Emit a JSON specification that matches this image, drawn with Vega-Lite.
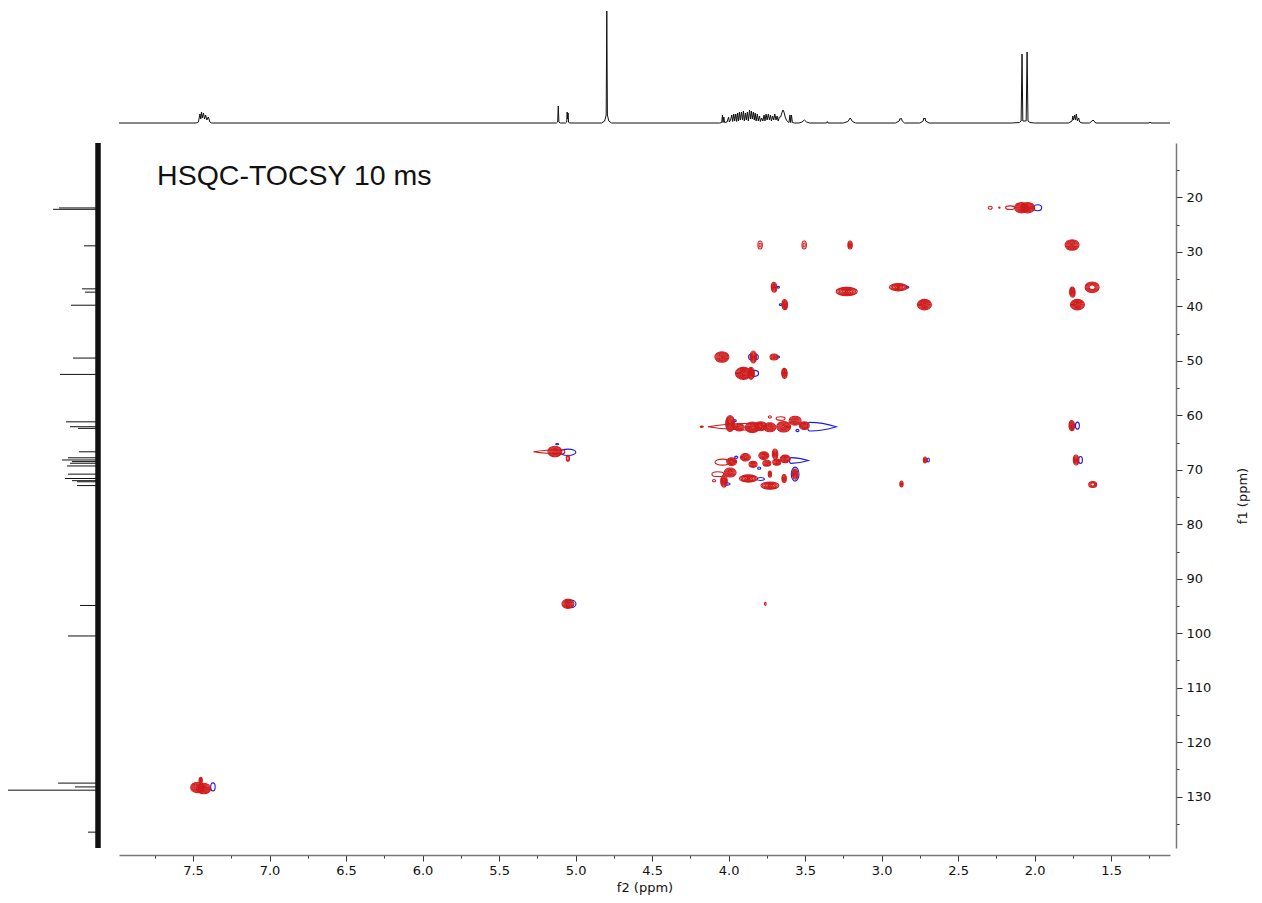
{
"$schema": "https://vega.github.io/schema/vega-lite/v6.json",
"background": "white",
"padding": 5,
"config": {"view": {"stroke": null}, "font": "DejaVu Sans", "axis": {"grid": false}},
"datasets": {
"h1": [
{"f2":7.984,"i":0},{"f2":7.48,"i":0},{"f2":7.465,"i":1},{"f2":7.455,"i":9},{"f2":7.45,"i":4},{"f2":7.445,"i":11},{"f2":7.44,"i":5},{"f2":7.432,"i":10},{"f2":7.425,"i":4},{"f2":7.418,"i":8},{"f2":7.41,"i":3},{"f2":7.4,"i":6},{"f2":7.39,"i":1},{"f2":7.38,"i":0},
{"f2":5.125,"i":0},{"f2":5.117,"i":1},{"f2":5.113,"i":17},{"f2":5.109,"i":1},{"f2":5.1,"i":0},
{"f2":5.065,"i":0},{"f2":5.058,"i":1},{"f2":5.055,"i":11},{"f2":5.052,"i":4},{"f2":5.049,"i":10},{"f2":5.046,"i":1},{"f2":5.04,"i":0},
{"f2":4.83,"i":0},{"f2":4.81,"i":2},{"f2":4.8,"i":8},{"f2":4.796,"i":112},{"f2":4.792,"i":8},{"f2":4.783,"i":2},{"f2":4.765,"i":0},
{"f2":4.06,"i":0},{"f2":4.045,"i":0.5},{"f2":4.04,"i":8},{"f2":4.036,"i":0.5},{"f2":4.031,"i":6},{"f2":4.026,"i":0.5},{"f2":4.01,"i":1},{"f2":4.0,"i":6},{"f2":3.995,"i":1},{"f2":3.987,"i":3},{"f2":3.979,"i":8},{"f2":3.973,"i":1.5},{"f2":3.966,"i":9},{"f2":3.96,"i":2},{"f2":3.953,"i":9},{"f2":3.947,"i":1.5},{"f2":3.941,"i":10},{"f2":3.935,"i":2},{"f2":3.929,"i":11},{"f2":3.923,"i":3},{"f2":3.916,"i":11},{"f2":3.909,"i":3},{"f2":3.903,"i":12},{"f2":3.897,"i":2},{"f2":3.89,"i":10},{"f2":3.884,"i":3},{"f2":3.877,"i":11},{"f2":3.871,"i":2},{"f2":3.863,"i":13},{"f2":3.857,"i":4},{"f2":3.851,"i":12},{"f2":3.845,"i":4},{"f2":3.838,"i":11},{"f2":3.832,"i":3},{"f2":3.826,"i":10},{"f2":3.82,"i":2},{"f2":3.812,"i":9},{"f2":3.806,"i":2},{"f2":3.798,"i":7},{"f2":3.792,"i":1.5},{"f2":3.784,"i":5},{"f2":3.776,"i":2},{"f2":3.768,"i":8},{"f2":3.762,"i":2},{"f2":3.755,"i":9},{"f2":3.748,"i":3},{"f2":3.74,"i":9},{"f2":3.733,"i":3},{"f2":3.726,"i":8},{"f2":3.72,"i":2},{"f2":3.712,"i":7},{"f2":3.705,"i":3},{"f2":3.698,"i":9},{"f2":3.69,"i":3},{"f2":3.683,"i":7},{"f2":3.676,"i":2},{"f2":3.668,"i":6},{"f2":3.66,"i":6},{"f2":3.652,"i":10},{"f2":3.645,"i":13},{"f2":3.638,"i":11},{"f2":3.63,"i":6},{"f2":3.622,"i":3},{"f2":3.615,"i":1.5},{"f2":3.605,"i":0.5},{"f2":3.599,"i":8},{"f2":3.594,"i":0.5},{"f2":3.589,"i":8},{"f2":3.583,"i":0.5},{"f2":3.57,"i":0},
{"f2":3.54,"i":0},{"f2":3.52,"i":1},{"f2":3.505,"i":3},{"f2":3.49,"i":1},{"f2":3.47,"i":0},
{"f2":3.36,"i":0},{"f2":3.355,"i":1.5},{"f2":3.35,"i":0},
{"f2":3.25,"i":0},{"f2":3.22,"i":1.5},{"f2":3.205,"i":5},{"f2":3.19,"i":1.5},{"f2":3.17,"i":0},
{"f2":2.91,"i":0},{"f2":2.885,"i":2},{"f2":2.88,"i":4.5},{"f2":2.875,"i":4},{"f2":2.87,"i":4.5},{"f2":2.865,"i":2},{"f2":2.85,"i":0},
{"f2":2.75,"i":0},{"f2":2.728,"i":2},{"f2":2.724,"i":5},{"f2":2.72,"i":4},{"f2":2.716,"i":5},{"f2":2.712,"i":2},{"f2":2.69,"i":0},
{"f2":2.15,"i":0},{"f2":2.1,"i":0.5},{"f2":2.088,"i":2},{"f2":2.082,"i":69},{"f2":2.077,"i":2},{"f2":2.055,"i":2},{"f2":2.049,"i":71},{"f2":2.043,"i":2},{"f2":2.03,"i":0.5},{"f2":2.0,"i":0},
{"f2":1.78,"i":0},{"f2":1.755,"i":2},{"f2":1.75,"i":7},{"f2":1.745,"i":3},{"f2":1.738,"i":8},{"f2":1.732,"i":3},{"f2":1.727,"i":9},{"f2":1.72,"i":2},{"f2":1.712,"i":5},{"f2":1.705,"i":1},{"f2":1.69,"i":0},
{"f2":1.64,"i":0},{"f2":1.625,"i":2},{"f2":1.618,"i":3},{"f2":1.612,"i":2},{"f2":1.6,"i":0},
{"f2":1.25,"i":0},{"f2":1.245,"i":1},{"f2":1.24,"i":0},{"f2":1.115,"i":0}
],
"c13": [
{"f1":21.95,"i":39},{"f1":22.2,"i":45},{"f1":28.9,"i":14},{"f1":36.8,"i":16},{"f1":37.4,"i":13},{"f1":39.8,"i":27},{"f1":49.5,"i":25},{"f1":52.5,"i":38},{"f1":61.2,"i":32},{"f1":62.1,"i":28},{"f1":62.4,"i":20},{"f1":66.7,"i":19},{"f1":67.8,"i":30},{"f1":68.2,"i":36},{"f1":68.5,"i":26},{"f1":68.8,"i":28},{"f1":69.3,"i":31},{"f1":70.8,"i":30},{"f1":71.6,"i":33},{"f1":72.0,"i":26},{"f1":72.2,"i":21},{"f1":72.9,"i":21},{"f1":94.9,"i":18},{"f1":100.5,"i":30},{"f1":127.5,"i":40},{"f1":128.2,"i":23},{"f1":128.8,"i":90},{"f1":136.5,"i":10}
],
"label": [{"t":"HSQC-TOCSY 10 ms","f2":7.735,"f1":17.7}],
"peaks": [
{"f2":1.98,"f1":21.9,"s":"neg","sh":"round","r":[4]},
{"f2":3.675,"f1":36.5,"s":"neg","sh":"round","r":[1.2]},
{"f2":2.83,"f1":36.5,"s":"neg","sh":"round","r":[1.2]},
{"f2":3.66,"f1":39.7,"s":"neg","sh":"round","r":[1.2]},
{"f2":3.86,"f1":49.3,"s":"neg","sh":"tall","r":[2.5]},
{"f2":3.815,"f1":49.3,"s":"neg","sh":"tall","r":[2.5]},
{"f2":3.675,"f1":49.3,"s":"neg","sh":"round","r":[1.2]},
{"f2":3.83,"f1":52.3,"s":"neg","sh":"round","r":[4]},
{"f2":3.39,"f1":62.1,"s":"neg","sh":"tailR","r":[3.6]},
{"f2":3.96,"f1":61.0,"s":"neg","sh":"round","r":[1.5]},
{"f2":3.55,"f1":62.8,"s":"neg","sh":"round","r":[1.5]},
{"f2":5.05,"f1":66.8,"s":"neg","sh":"wide","r":[5.3]},
{"f2":5.12,"f1":65.3,"s":"neg","sh":"wide","r":[1]},
{"f2":3.54,"f1":68.3,"s":"neg","sh":"tailR","r":[2.4]},
{"f2":3.95,"f1":67.7,"s":"neg","sh":"round","r":[1.5]},
{"f2":3.8,"f1":69.7,"s":"neg","sh":"round","r":[1.5]},
{"f2":3.79,"f1":71.7,"s":"neg","sh":"wide","r":[2.5]},
{"f2":3.565,"f1":70.8,"s":"neg","sh":"tall","r":[7]},
{"f2":4.01,"f1":72.6,"s":"neg","sh":"wide","r":[2]},
{"f2":5.03,"f1":94.6,"s":"neg","sh":"round","r":[5]},
{"f2":7.37,"f1":128.2,"s":"neg","sh":"tall","r":[4]},
{"f2":1.72,"f1":61.9,"s":"neg","sh":"tall","r":[3.5]},
{"f2":1.7,"f1":68.2,"s":"neg","sh":"tall","r":[3.5]},
{"f2":2.695,"f1":68.2,"s":"neg","sh":"tall","r":[2]},
{"f2":2.085,"f1":21.9,"s":"pos","sh":"round","r":[1,2,3,4,5,6,7]},
{"f2":2.045,"f1":21.9,"s":"pos","sh":"round","r":[1,2,3,4,5,6,7]},
{"f2":2.16,"f1":21.9,"s":"pos","sh":"wide","r":[3]},
{"f2":2.29,"f1":21.9,"s":"pos","sh":"round","r":[2]},
{"f2":2.23,"f1":21.9,"s":"pos","sh":"round","r":[0.7]},
{"f2":3.794,"f1":28.75,"s":"pos","sh":"tall","r":[2,4]},
{"f2":3.506,"f1":28.75,"s":"pos","sh":"tall","r":[2,4]},
{"f2":3.206,"f1":28.75,"s":"pos","sh":"tall","r":[1,2,3,4]},
{"f2":1.755,"f1":28.75,"s":"pos","sh":"round","r":[1,2,3,4,5,6,7]},
{"f2":3.703,"f1":36.5,"s":"pos","sh":"tall","r":[1,2,3,4,5]},
{"f2":2.89,"f1":36.5,"s":"pos","sh":"wide","r":[1,2,3,4,5,6]},
{"f2":1.624,"f1":36.5,"s":"pos","sh":"round","r":[3,4,5,6,7]},
{"f2":3.228,"f1":37.3,"s":"pos","sh":"wide","r":[1,2,3,4,5,6,7]},
{"f2":1.753,"f1":37.4,"s":"pos","sh":"tall","r":[1,2,3,4,5]},
{"f2":3.633,"f1":39.7,"s":"pos","sh":"tall","r":[1,2,3,4,5]},
{"f2":2.72,"f1":39.7,"s":"pos","sh":"round","r":[1,2,3,4,5,6,7]},
{"f2":1.72,"f1":39.7,"s":"pos","sh":"round","r":[1,2,3,4,5,6,7]},
{"f2":4.044,"f1":49.3,"s":"pos","sh":"round","r":[1,2,3,4,5,6,7]},
{"f2":3.838,"f1":49.3,"s":"pos","sh":"tall","r":[1,2,3,4,5,6]},
{"f2":3.703,"f1":49.3,"s":"pos","sh":"round","r":[1,2,3,4]},
{"f2":3.903,"f1":52.3,"s":"pos","sh":"round","r":[1,2,3,4,5,6,7,8]},
{"f2":3.853,"f1":52.3,"s":"pos","sh":"tall","r":[1,2,3,4,5,6]},
{"f2":3.635,"f1":52.3,"s":"pos","sh":"tall","r":[1,2,3,4,5]},
{"f2":3.954,"f1":62.1,"s":"pos","sh":"tailL","r":[6.9]},
{"f2":4.175,"f1":62.1,"s":"pos","sh":"wide","r":[1]},
{"f2":3.99,"f1":61.5,"s":"pos","sh":"tall","r":[1,2,3,4,5,6,7,8]},
{"f2":3.93,"f1":62.2,"s":"pos","sh":"round","r":[1,2,3,4,5]},
{"f2":3.845,"f1":62.2,"s":"pos","sh":"round","r":[1,2,3,4,5,6,7]},
{"f2":3.79,"f1":62.0,"s":"pos","sh":"round","r":[1,2,3,4,5,6]},
{"f2":3.73,"f1":62.2,"s":"pos","sh":"round","r":[1,2,3,4,5,6]},
{"f2":3.64,"f1":62.1,"s":"pos","sh":"round","r":[1,2,3,4,5,6,7]},
{"f2":3.565,"f1":61.0,"s":"pos","sh":"round","r":[1,2,3,4,5,6]},
{"f2":3.505,"f1":61.9,"s":"pos","sh":"round","r":[1,2,3,4,5]},
{"f2":3.73,"f1":60.3,"s":"pos","sh":"round","r":[1.5]},
{"f2":3.66,"f1":60.6,"s":"pos","sh":"wide","r":[3]},
{"f2":5.17,"f1":66.7,"s":"pos","sh":"tailL","r":[4]},
{"f2":5.135,"f1":66.65,"s":"pos","sh":"round","r":[1,2,3,4,5,6,7]},
{"f2":5.05,"f1":67.9,"s":"pos","sh":"tall","r":[2,3]},
{"f2":4.04,"f1":68.6,"s":"pos","sh":"wide","r":[5]},
{"f2":3.98,"f1":68.5,"s":"pos","sh":"round","r":[1,2,3,4,5]},
{"f2":3.89,"f1":67.7,"s":"pos","sh":"round","r":[1,2,3,4,5]},
{"f2":3.84,"f1":69.0,"s":"pos","sh":"round","r":[1,2,3,4]},
{"f2":3.77,"f1":67.4,"s":"pos","sh":"round","r":[1,2,3,4,5]},
{"f2":3.75,"f1":68.8,"s":"pos","sh":"round","r":[1,2,3,4]},
{"f2":3.696,"f1":67.1,"s":"pos","sh":"tall","r":[1,2,3,4,5]},
{"f2":3.685,"f1":68.6,"s":"pos","sh":"round","r":[1,2,3,4]},
{"f2":3.63,"f1":68.0,"s":"pos","sh":"round","r":[1,2,3,4,5]},
{"f2":4.095,"f1":72.0,"s":"pos","sh":"round","r":[1.5]},
{"f2":4.07,"f1":70.8,"s":"pos","sh":"wide","r":[4]},
{"f2":4.03,"f1":72.1,"s":"pos","sh":"tall","r":[1,2,3,4,5,6]},
{"f2":3.99,"f1":70.5,"s":"pos","sh":"round","r":[1,2,3,4,5,6]},
{"f2":3.87,"f1":71.6,"s":"pos","sh":"wide","r":[1,2,3,4,5,6]},
{"f2":3.73,"f1":70.8,"s":"pos","sh":"tall","r":[1,2,3]},
{"f2":3.73,"f1":72.9,"s":"pos","sh":"wide","r":[1,2,3,4,5,6]},
{"f2":3.637,"f1":71.6,"s":"pos","sh":"tall","r":[1,2,3,4]},
{"f2":3.565,"f1":70.8,"s":"pos","sh":"tall","r":[1,2,3,4,5]},
{"f2":1.757,"f1":61.9,"s":"pos","sh":"tall","r":[1,2,3,4,5]},
{"f2":1.729,"f1":68.2,"s":"pos","sh":"tall","r":[1,2,3,4,5]},
{"f2":1.62,"f1":72.7,"s":"pos","sh":"round","r":[2,3,4]},
{"f2":2.716,"f1":68.2,"s":"pos","sh":"tall","r":[1,2,3]},
{"f2":2.87,"f1":72.6,"s":"pos","sh":"tall","r":[1,2,3]},
{"f2":5.05,"f1":94.6,"s":"pos","sh":"round","r":[1,2,3,4,5,6]},
{"f2":3.76,"f1":94.6,"s":"pos","sh":"tall","r":[1.5]},
{"f2":7.47,"f1":128.3,"s":"pos","sh":"round","r":[1,2,3,4,5,6,7]},
{"f2":7.43,"f1":128.5,"s":"pos","sh":"round","r":[1,2,3,4,5,6,7]},
{"f2":7.45,"f1":127.0,"s":"pos","sh":"tall","r":[1,2,3]}
]
},
"columns": 2,
"align": "each",
"bounds": "flush",
"spacing": {"row": 20, "column": 21},
"concat": [
{"width": 93, "height": 118, "data": {"values": []}, "mark": "point"},
{
"width": 1051, "height": 118,
"data": {"name": "h1"},
"mark": {"type": "line", "color": "#111111", "strokeWidth": 1},
"encoding": {
"x": {"field": "f2", "type": "quantitative", "scale": {"domain": [1.115, 7.984], "reverse": true, "nice": false, "zero": false}, "axis": null},
"y": {"field": "i", "type": "quantitative", "scale": {"domain": [0, 118], "nice": false}, "axis": null}
}
},
{
"width": 93, "height": 705,
"layer": [
{
"data": {"values": [{}]},
"mark": {"type": "rule", "color": "#111111", "strokeWidth": 5.5},
"encoding": {
"y": {"datum": 10.03, "type": "quantitative", "scale": {"domain": [10.03, 139.41], "reverse": true, "nice": false, "zero": false}, "axis": null},
"y2": {"datum": 139.41},
"x": {"datum": 0, "type": "quantitative", "scale": {"domain": [0, 93], "reverse": true, "nice": false}, "axis": null}
}
},
{
"data": {"name": "c13"},
"mark": {"type": "rule", "color": "#111111", "strokeWidth": 1},
"encoding": {
"y": {"field": "f1", "type": "quantitative"},
"x": {"field": "i", "type": "quantitative"},
"x2": {"datum": 0}
}
}
]
},
{
"width": 1051, "height": 705,
"encoding": {
"x": {"field": "f2", "type": "quantitative", "scale": {"domain": [1.115, 7.984], "reverse": true, "nice": false, "zero": false},
"axis": {"title": "f2 (ppm)", "orient": "bottom", "offset": 7,
"values": [7.75,7.5,7.25,7,6.75,6.5,6.25,6,5.75,5.5,5.25,5,4.75,4.5,4.25,4,3.75,3.5,3.25,3,2.75,2.5,2.25,2,1.75,1.5,1.25],
"labelExpr": "datum.value % 0.5 === 0 ? format(datum.value, '.1f') : ''",
"tickSize": {"condition": {"test": "datum.value % 0.5 === 0", "value": 6}, "value": 3},
"labelOverlap": false, "labelFlush": false,
"domainColor": "#777777", "domainWidth": 1.5, "tickColor": "#333333", "tickWidth": 1,
"labelColor": "#111111", "labelFont": "DejaVu Sans", "labelFontSize": 13, "labelPadding": 3,
"titleFont": "DejaVu Sans", "titleFontSize": 13, "titleFontWeight": "normal", "titleColor": "#111111", "titlePadding": 4}},
"y": {"field": "f1", "type": "quantitative", "scale": {"domain": [10.03, 139.41], "reverse": true, "nice": false, "zero": false},
"axis": {"title": "f1 (ppm)", "orient": "right", "offset": 6,
"values": [15,20,25,30,35,40,45,50,55,60,65,70,75,80,85,90,95,100,105,110,115,120,125,130,135],
"labelExpr": "datum.value % 10 === 0 ? format(datum.value, 'd') : ''",
"tickSize": {"condition": {"test": "datum.value % 10 === 0", "value": 6}, "value": 3},
"labelOverlap": false, "labelFlush": false,
"domainColor": "#777777", "domainWidth": 1.5, "tickColor": "#333333", "tickWidth": 1,
"labelColor": "#111111", "labelFont": "DejaVu Sans", "labelFontSize": 13, "labelPadding": 4,
"titleFont": "DejaVu Sans", "titleFontSize": 13, "titleFontWeight": "normal", "titleColor": "#111111",
"titleAngle": 270, "titleBaseline": "top", "titlePadding": 26}}
},
"layer": [
{
"data": {"name": "peaks"},
"transform": [{"flatten": ["r"]}],
"mark": {"type": "point", "filled": false, "strokeWidth": 1.1, "opacity": 1},
"encoding": {
"size": {"field": "r", "type": "quantitative", "scale": {"type": "pow", "exponent": 2, "domain": [0, 10], "range": [0, 400]}, "legend": null},
"stroke": {"field": "s", "type": "nominal", "scale": {"domain": ["neg", "pos"], "range": ["#1a1ae6", "#cf1b1b"]}, "legend": null},
"shape": {"field": "sh", "type": "nominal", "scale": {"domain": ["round", "wide", "tall", "tailL", "tailR"], "range": [
"M-1,0A1,0.75,0,1,1,1,0A1,0.75,0,1,1,-1,0Z",
"M-1.5,0A1.5,0.6,0,1,1,1.5,0A1.5,0.6,0,1,1,-1.5,0Z",
"M-0.55,0A0.55,1,0,1,1,0.55,0A0.55,1,0,1,1,-0.55,0Z",
"M-4,0C-2,-0.35,1,-0.5,3.3,-0.5C4,-0.5,4,0.5,3.3,0.5C1,0.5,-2,0.35,-4,0Z",
"M4,0C2,-0.6,-1,-1.2,-3.3,-1.2C-4.2,-1.2,-4.2,1.2,-3.3,1.2C-1,1.2,2,0.6,4,0Z"]}, "legend": null}
}
},
{
"data": {"name": "label"},
"mark": {"type": "text", "align": "left", "baseline": "alphabetic", "font": "Liberation Sans", "fontSize": 28.5, "color": "#111111"},
"encoding": {"text": {"field": "t", "type": "nominal"}}
}
]
}
]
}
